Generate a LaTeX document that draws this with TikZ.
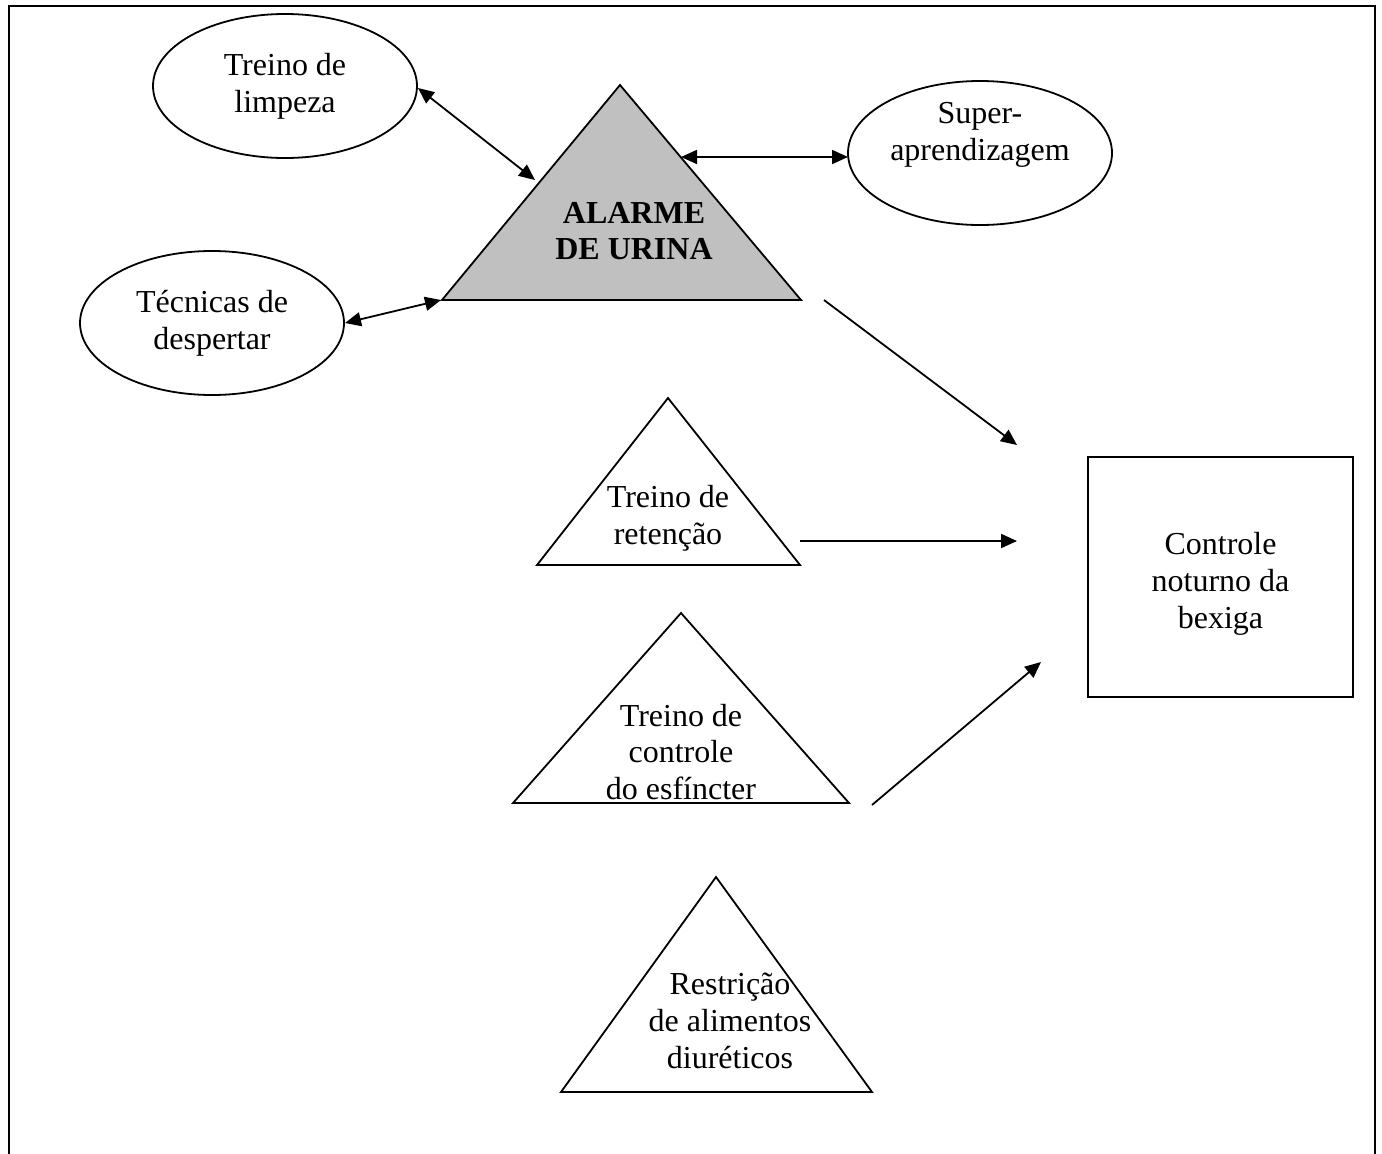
\documentclass[tikz,border=0pt]{standalone}
\usepackage{fontspec}
\setmainfont{Liberation Serif}
\usetikzlibrary{arrows.meta,shapes.geometric}
\definecolor{alarmgray}{HTML}{C0C0C0}
\begin{document}
\begin{tikzpicture}[x=1pt,y=-1pt,
 lbl/.style={align=center,font=\fontsize{32}{36.8}\selectfont,inner sep=0pt},
 oval/.style={draw,line width=1.8pt,ellipse,minimum width=264pt,minimum height=144pt,inner sep=0pt},
 outline/.style={draw,line width=1.8pt,line join=miter},
 link/.style={line width=1.8pt,-{Triangle[length=16pt,width=14pt]}},
 dlink/.style={line width=1.8pt,{Triangle[length=16pt,width=14pt]}-{Triangle[length=16pt,width=14pt]}}]
\useasboundingbox (0,0) rectangle (1382,1154);
% frame
\draw[line width=1.8pt] (9,1154) -- (9,6) -- (1375,6) -- (1375,1154);

% ellipses
\node[oval,lbl] (limpeza) at (285,86) {Treino de\\limpeza};
\node[oval,lbl] (despertar) at (212,323) {Técnicas de\\despertar};
\node[oval] (super) at (980,153) {};
\node[lbl] (supertxt) at (980,135) {Super-\\aprendizagem};

% alarm triangle
\coordinate (a1) at (620,85);
\coordinate (a2) at (442,300);
\coordinate (a3) at (801,300);
\filldraw[outline,fill=alarmgray] (a1) -- (a2) -- (a3) -- cycle;
\node[lbl,font=\fontsize{32}{36.8}\selectfont\bfseries] (alarme) at (634,231) {ALARME\\DE URINA};

% retention triangle
\coordinate (r1) at (668,398);
\coordinate (r2) at (537,565);
\coordinate (r3) at (800,565);
\draw[outline] (r1) -- (r2) -- (r3) -- cycle;
\node[lbl] (retencao) at (668,518) {Treino de\\retenção};

% sphincter triangle
\coordinate (e1) at (681,613);
\coordinate (e2) at (513,803);
\coordinate (e3) at (849,803);
\draw[outline] (e1) -- (e2) -- (e3) -- cycle;
\node[lbl] (esfincter) at (681,752) {Treino de\\controle\\do esfíncter};

% restriction triangle
\coordinate (t1) at (716,877);
\coordinate (t2) at (561,1092);
\coordinate (t3) at (872,1092);
\draw[outline] (t1) -- (t2) -- (t3) -- cycle;
\node[lbl] (restricao) at (730,1021) {Restrição\\de alimentos\\diuréticos};

% target box
\node[draw,line width=1.8pt,minimum width=265pt,minimum height=240pt,inner sep=0pt] (controle) at (1220.5,577) {};
\node[lbl] (controletxt) at (1220.5,584) {Controle\\noturno da\\bexiga};

% connectors
\coordinate (l1) at (418,88);
\coordinate (l2) at (535,180);
\draw[dlink] (l1) -- (l2);
\coordinate (d1) at (345,323);
\coordinate (d2) at (441,300);
\draw[dlink] (d1) -- (d2);
\coordinate (s1) at (681,157);
\coordinate (s2) at (848,157);
\draw[dlink] (s1) -- (s2);

\coordinate (m1) at (824,300);
\coordinate (m2) at (1017,445);
\draw[link] (m1) -- (m2);
\coordinate (n1) at (800,541);
\coordinate (n2) at (1017,541);
\draw[link] (n1) -- (n2);
\coordinate (o1) at (872,805);
\coordinate (o2) at (1041,662);
\draw[link] (o1) -- (o2);
\end{tikzpicture}
\end{document}
